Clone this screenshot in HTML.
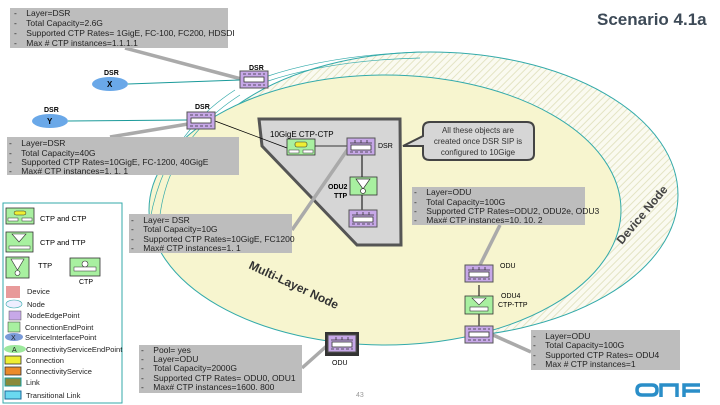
<!DOCTYPE html>
<html><head><meta charset="utf-8"><style>
html,body{margin:0;padding:0;background:#fff;}
svg{display:block;font-family:"Liberation Sans",sans-serif;}
</style></head><body>
<svg width="720" height="405" viewBox="0 0 720 405" xmlns="http://www.w3.org/2000/svg">
<defs>
<pattern id="h" width="5" height="5" patternUnits="userSpaceOnUse" patternTransform="rotate(45)">
<rect width="5" height="5" fill="#fafaf0"/><line x1="0" y1="0" x2="0" y2="5" stroke="#e4e4c4" stroke-width="2"/></pattern>
<g id="nep"><rect x="0" y="0" width="28" height="17" fill="#c7a8e8" stroke="#555" stroke-width="1"/><rect x="4" y="6" width="20" height="5" fill="#fff" stroke="#333" stroke-width="0.8"/><line x1="3" y1="3" x2="25" y2="3" stroke="#333" stroke-dasharray="3,2" stroke-width="0.8"/><line x1="3" y1="14" x2="25" y2="14" stroke="#333" stroke-dasharray="3,2" stroke-width="0.8"/></g>
<g id="nep2"><rect x="0" y="0" width="28" height="17" fill="#c7a8e8" stroke="#555" stroke-width="1"/><rect x="4" y="7" width="20" height="5" fill="#fff" stroke="#333" stroke-width="0.8"/><path d="M3 5 H25 M8 2 V5 M14 2 V5 M20 2 V5" stroke="#333" stroke-width="0.8"/><line x1="3" y1="14" x2="25" y2="14" stroke="#333" stroke-dasharray="3,2" stroke-width="0.8"/></g>
</defs>
<!-- device node outer ellipse -->
<ellipse cx="430" cy="195" rx="248" ry="143" fill="url(#h)" stroke="#3aa" stroke-width="1"/>
<!-- multi layer node -->
<ellipse cx="385" cy="210" rx="236" ry="135" fill="#f7f5cf" stroke="#3aa" stroke-width="1"/>
<path d="M160 215 Q170 140 240 95" fill="none" stroke="#3aa" stroke-width="0.7"/>
<path d="M150 220 Q165 135 235 90" fill="none" stroke="#3aa" stroke-width="0.7"/>
<path d="M265 82 Q330 60 420 58" fill="none" stroke="#3aa" stroke-width="0.7"/>
<path d="M265 77 Q330 55 420 52" fill="none" stroke="#3aa" stroke-width="0.7"/>
<text x="0" y="0" font-size="12" fill="#444" font-weight="bold" transform="translate(622,245) rotate(-50)">Device Node</text>
<text x="0" y="0" font-size="12" fill="#333" font-weight="bold" transform="translate(248,268) rotate(25)">Multi-Layer Node</text>
<!-- grey polygon -->
<polygon points="259,119 400,119 401,245 357,245 262,146" fill="#d6d6d6" stroke="#555" stroke-width="3"/>
<!-- gray connectors -->
<g stroke="#aaa" stroke-width="3.5">
<line x1="125" y1="48" x2="245" y2="80"/>
<line x1="110" y1="137" x2="200" y2="122"/>
<line x1="292" y1="230" x2="350" y2="146"/>
<line x1="500" y1="225" x2="480" y2="265"/>
<line x1="302" y1="368" x2="330" y2="343"/>
<line x1="531" y1="352" x2="493" y2="335"/>
</g>
<g stroke="#1a9a9a" stroke-width="1"><line x1="128" y1="84" x2="240" y2="80"/><line x1="68" y1="121" x2="187" y2="120"/></g>
<line x1="215" y1="121" x2="287" y2="148" stroke="#000" stroke-width="0.8"/>
<line x1="315" y1="146" x2="347" y2="146" stroke="#000" stroke-width="0.8"/>
<line x1="362" y1="155" x2="362" y2="177" stroke="#000"/><line x1="362" y1="195" x2="362" y2="210" stroke="#000"/>
<line x1="479" y1="285" x2="479" y2="326" stroke="#000"/>
<!-- top elements -->
<rect x="10" y="8" width="218" height="40" fill="#bdbdbd"/>
<g font-size="8.5" fill="#222"><text x="14" y="16">-&#160;&#160;&#160; Layer=DSR</text><text x="14" y="26">-&#160;&#160;&#160; Total Capacity=2.6G</text><text x="14" y="36">-&#160;&#160;&#160; Supported CTP Rates= 1GigE, FC-100, FC200, HDSDI</text><text x="14" y="46">-&#160;&#160;&#160; Max #  CTP instances=1.1.1.1</text></g>
<text x="597" y="25" font-size="17" font-weight="bold" fill="#3d4a57">Scenario 4.1a</text>
<use href="#nep" x="240" y="71"/><text x="249" y="70" font-size="7" font-weight="bold">DSR</text>
<ellipse cx="110" cy="84" rx="18" ry="7" fill="#6aa8e8"/><text x="107" y="87" font-size="8" font-weight="bold">X</text><text x="104" y="75" font-size="7" font-weight="bold">DSR</text>
<ellipse cx="50" cy="121" rx="18" ry="7" fill="#6aa8e8"/><text x="47" y="124" font-size="8" font-weight="bold">Y</text><text x="44" y="112" font-size="7" font-weight="bold">DSR</text>
<use href="#nep" x="187" y="112"/><text x="195" y="109" font-size="7" font-weight="bold">DSR</text>
<rect x="7" y="137" width="232" height="38" fill="#bdbdbd"/>
<g font-size="8.5" fill="#222"><text x="9" y="146">-&#160;&#160;&#160; Layer=DSR</text><text x="9" y="156">-&#160;&#160;&#160; Total Capacity=40G</text><text x="9" y="165">-&#160;&#160;&#160; Supported CTP Rates=10GigE, FC-1200, 40GigE</text><text x="9" y="174">-&#160;&#160;&#160; Max# CTP instances=1. 1. 1</text></g>
<!-- polygon contents -->
<text x="270" y="137" font-size="8">10GigE CTP-CTP</text>
<rect x="287" y="139" width="28" height="16" fill="#a8f0a0" stroke="#333" stroke-width="0.8"/><rect x="295" y="142" width="12" height="5" rx="2" fill="#ee3" stroke="#333" stroke-width="0.6"/><rect x="289" y="150" width="10" height="3" fill="#fff" stroke="#333" stroke-width="0.5"/><rect x="303" y="150" width="10" height="3" fill="#fff" stroke="#333" stroke-width="0.5"/>
<use href="#nep2" x="347" y="138"/><text x="378" y="148" font-size="7">DSR</text>
<rect x="350" y="177" width="27" height="18" fill="#a8f0a0" stroke="#333" stroke-width="0.8"/><path d="M356 179 L370 179 L363 189 Z" fill="#fff" stroke="#333" stroke-width="0.7"/><circle cx="363" cy="191" r="2.5" fill="#fff" stroke="#333" stroke-width="0.7"/>
<text x="328" y="189" font-size="7" font-weight="bold">ODU2</text><text x="334" y="198" font-size="7" font-weight="bold">TTP</text>
<use href="#nep2" x="349" y="210"/>
<!-- callout -->
<path d="M430 122 H527 Q534 122 534 129 V154 Q534 160 527 160 H430 Q423 160 423 154 V146 L403 146 L423 136 V129 Q423 122 430 122 Z" fill="#d6d6d6" stroke="#444" stroke-width="2"/>
<g font-size="8" fill="#333" text-anchor="middle"><text x="478" y="133">All these objects are</text><text x="478" y="144">created once DSR SIP is</text><text x="478" y="155">configured to 10Gige</text></g>
<rect x="412" y="187" width="173" height="38" fill="#bdbdbd"/>
<g font-size="8.5" fill="#222"><text x="414" y="195">-&#160;&#160;&#160; Layer=ODU</text><text x="414" y="205">-&#160;&#160;&#160; Total Capacity=100G</text><text x="414" y="214">-&#160;&#160;&#160; Supported CTP Rates=ODU2, ODU2e, ODU3</text><text x="414" y="223">-&#160;&#160;&#160; Max# CTP instances=10. 10. 2</text></g>
<rect x="129" y="214" width="163" height="39" fill="#bdbdbd"/>
<g font-size="8.5" fill="#222"><text x="131" y="223">-&#160;&#160;&#160; Layer= DSR</text><text x="131" y="232">-&#160;&#160;&#160; Total Capacity=10G</text><text x="131" y="242">-&#160;&#160;&#160; Supported CTP Rates=10GigE, FC1200</text><text x="131" y="251">-&#160;&#160;&#160; Max# CTP instances=1. 1</text></g>
<!-- right column -->
<use href="#nep2" x="465" y="265"/><text x="500" y="268" font-size="7">ODU</text>
<rect x="465" y="296" width="28" height="18" fill="#a8f0a0" stroke="#333" stroke-width="0.8"/><path d="M472 298 L486 298 L479 305 Z" fill="#fff" stroke="#333" stroke-width="0.6"/><rect x="470" y="307" width="18" height="4" fill="#fff" stroke="#333" stroke-width="0.6"/>
<text x="501" y="298" font-size="7">ODU4</text><text x="498" y="307" font-size="7">CTP-TTP</text>
<use href="#nep" x="465" y="326"/>
<rect x="531" y="330" width="149" height="40" fill="#bdbdbd"/>
<g font-size="8.5" fill="#222"><text x="533" y="339">-&#160;&#160;&#160; Layer=ODU</text><text x="533" y="348">-&#160;&#160;&#160; Total Capacity=100G</text><text x="533" y="358">-&#160;&#160;&#160; Supported CTP Rates= ODU4</text><text x="533" y="367">-&#160;&#160;&#160; Max #  CTP instances=1</text></g>
<!-- bottom ODU -->
<rect x="325" y="332" width="34" height="24" fill="#333"/><use href="#nep2" x="328" y="335"/><text x="332" y="365" font-size="7">ODU</text>
<rect x="139" y="345" width="163" height="48" fill="#bdbdbd"/>
<g font-size="8.5" fill="#222"><text x="141" y="353">-&#160;&#160;&#160; Pool= yes</text><text x="141" y="362">-&#160;&#160;&#160; Layer=ODU</text><text x="141" y="371">-&#160;&#160;&#160; Total Capacity=2000G</text><text x="141" y="381">-&#160;&#160;&#160; Supported CTP Rates= ODU0, ODU1</text><text x="141" y="390">-&#160;&#160;&#160; Max# CTP instances=1600. 800</text></g>
<text x="356" y="397" font-size="7" fill="#999">43</text>
<!-- onf logo -->
<g fill="none" stroke="#2a8ec8" stroke-width="3.5"><path d="M652 385 H642 Q637 385 637 390 Q637 395 642 395 H652 Q657 395 657 390 Q657 385 652 385 Z"/><path d="M661 397 V385 H677 V397"/><path d="M684 397 V385 H700 M684 391 H700"/></g>
<!-- legend -->
<rect x="3" y="203" width="119" height="200" fill="#fff" stroke="#3aa" stroke-width="1"/>
<rect x="6" y="208" width="28" height="16" fill="#a8f0a0" stroke="#333" stroke-width="0.8"/><rect x="14" y="211" width="12" height="4" rx="2" fill="#ee3" stroke="#333" stroke-width="0.5"/><rect x="8" y="218" width="10" height="3" fill="#fff" stroke="#333" stroke-width="0.5"/><rect x="22" y="218" width="10" height="3" fill="#fff" stroke="#333" stroke-width="0.5"/>
<text x="40" y="221" font-size="7.5">CTP and CTP</text>
<rect x="6" y="232" width="27" height="20" fill="#a8f0a0" stroke="#333" stroke-width="0.8"/><path d="M12 234 L26 234 L19 242 Z" fill="#fff" stroke="#333" stroke-width="0.6"/><rect x="9" y="246" width="21" height="3" fill="#fff" stroke="#333" stroke-width="0.5"/>
<text x="40" y="245" font-size="7.5">CTP and TTP</text>
<rect x="6" y="257" width="23" height="21" fill="#a8f0a0" stroke="#333" stroke-width="0.8"/><path d="M11 259 L24 259 L17.5 270 Z" fill="#fff" stroke="#333" stroke-width="0.6"/><circle cx="17.5" cy="273" r="2.5" fill="#fff" stroke="#333" stroke-width="0.6"/>
<text x="38" y="268" font-size="7.5">TTP</text>
<rect x="70" y="258" width="30" height="18" fill="#a8f0a0" stroke="#333" stroke-width="0.8"/><circle cx="85" cy="264" r="3" fill="#fff" stroke="#333" stroke-width="0.6"/><rect x="74" y="267" width="22" height="4" fill="#fff" stroke="#333" stroke-width="0.5"/>
<text x="79" y="284" font-size="7">CTP</text>
<g font-size="7.5" fill="#222">
<rect x="6" y="286" width="14" height="12" fill="#e89a9a"/><text x="27" y="294">Device</text>
<ellipse cx="14" cy="304" rx="8" ry="4" fill="#eef" stroke="#3aa" stroke-width="0.6"/><text x="27" y="307">Node</text>
<rect x="9" y="311" width="12" height="9" fill="#c7a8e8" stroke="#555" stroke-width="0.5"/><text x="27" y="318">NodeEdgePoint</text>
<rect x="8" y="322" width="12" height="10" fill="#a8f0a0" stroke="#333" stroke-width="0.5"/><text x="25" y="330">ConnectionEndPoint</text>
<ellipse cx="14" cy="337" rx="9" ry="4" fill="#7a9ad8"/><text x="11" y="340" font-size="7">X</text><text x="25" y="340">ServiceInterfacePoint</text>
<ellipse cx="15" cy="349" rx="11" ry="4" fill="#9de89d"/><text x="12" y="352" font-size="7">A</text><text x="26" y="352">ConnectivityServiceEndPoint</text>
<rect x="5" y="356" width="16" height="8" fill="#ee3" stroke="#333" stroke-width="0.8"/><text x="26" y="363">Connection</text>
<rect x="5" y="367" width="16" height="8" fill="#eb8a2a" stroke="#333" stroke-width="0.8"/><text x="26" y="374">ConnectivityService</text>
<rect x="5" y="378" width="16" height="8" fill="#8a8a3a" stroke="#1a9a9a" stroke-width="1"/><text x="26" y="385">Link</text>
<rect x="5" y="391" width="16" height="8" fill="#6ad8f0" stroke="#1a6a9a" stroke-width="1"/><text x="26" y="398">Transitional Link</text>
</g>
</svg>
</body></html>
